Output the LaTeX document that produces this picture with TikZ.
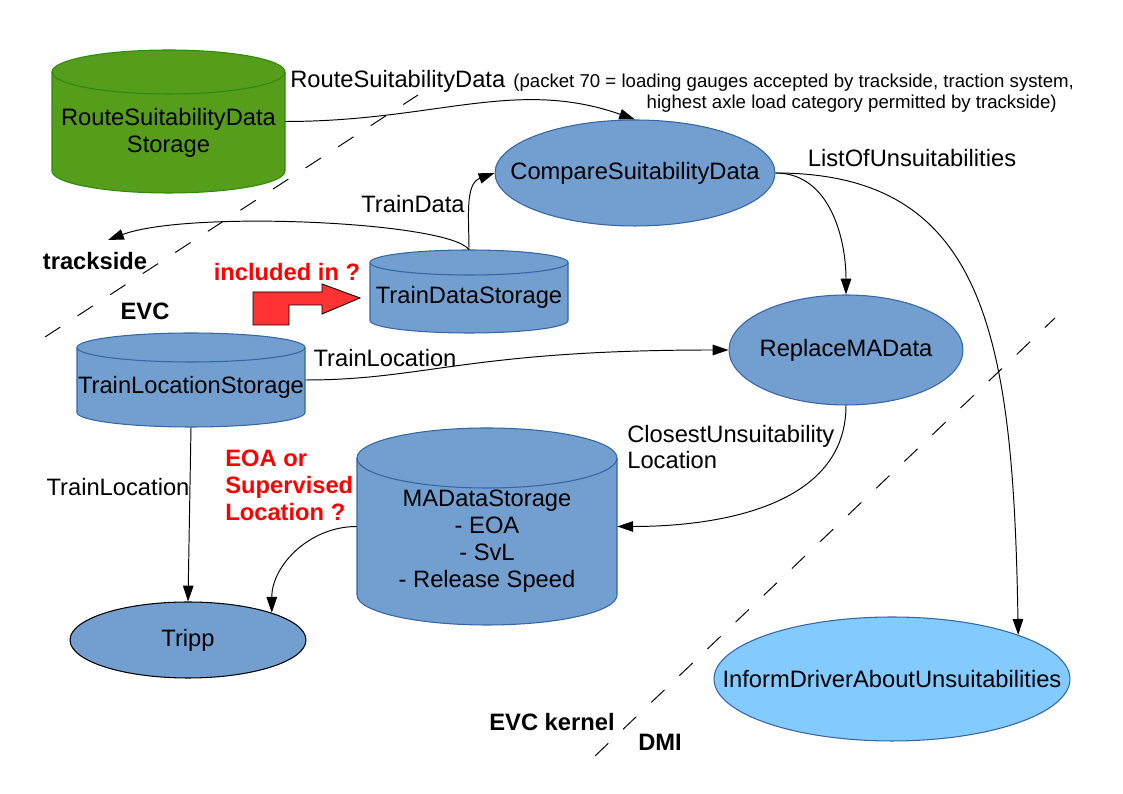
\documentclass[tikz,border=0pt]{standalone}
\usepackage{fontspec}
\setmainfont{Liberation Sans}
\usetikzlibrary{shapes.geometric,arrows.meta}
\definecolor{box-blue}{HTML}{729FCF}
\definecolor{box-edge}{HTML}{3465A4}
\definecolor{box-green}{HTML}{579D1C}
\definecolor{green-edge}{HTML}{2A8C0A}
\definecolor{dmi-blue}{HTML}{83CAFF}
\definecolor{note-red}{HTML}{FF3333}
\newcommand{\basesize}{\fontsize{13.5}{15.3}\selectfont}
\newcommand{\packetsize}{\fontsize{10.6}{12.7}\selectfont}
\newcommand{\pxunit}{0.02cm}
\newcommand{\ovaltext}[1]{\makebox[0pt]{#1}}
% name, x, y, half width, half height, cap radius, look, text
\newcommand{\storedrum}[8]{%
  \path[#7] (#2-#4,#3+#5-#6) -- (#2-#4,#3-#5+#6) arc[start angle=180, end angle=360, x radius=#4, y radius=#6] -- (#2+#4,#3+#5-#6) arc[start angle=0, end angle=180, x radius=#4, y radius=#6] -- cycle;
  \draw[#7, fill=none] (#2-#4,#3+#5-#6) arc[start angle=180, end angle=360, x radius=#4, y radius=#6];
  \node[inner sep=0pt, minimum width=2*#4*\pxunit, minimum height=2*#5*\pxunit, label={[align=center, yshift=-0.5*#6*\pxunit]center:#8}] (#1) at (#2,#3) {};
}
\tikzset{
    drum-blue/.style = {fill=box-blue, draw=box-edge, line width=0.6pt},
    drum-green/.style = {fill=box-green, draw=green-edge, line width=0.6pt},
    process-oval/.style = {ellipse, draw=box-edge, fill=box-blue, inner sep=0pt, line width=0.6pt},
    flow-arrow/.style = {line width=0.55pt, -{Triangle[length=9pt,width=6pt]}},
    flow-label/.style = {inner sep=0pt},
    zone-label/.style = {inner sep=0pt, font=\basesize\bfseries},
    red-note/.style = {inner sep=0pt, text=red, font=\basesize\bfseries, align=left},
    zone-border/.style = {line width=0.55pt, dash pattern=on 10.4pt off 11.7pt},
}
\begin{document}
\begin{tikzpicture}[x=0.02cm, y=0.02cm, font=\basesize]
\useasboundingbox (0,0) rectangle (1123,794);
\draw[zone-border] (45,457) -- (418,699);
\draw[zone-border] (595,38) -- (1055,476);

\storedrum{rsds}{168.5}{672.5}{116.5}{71.5}{22}{drum-green}{RouteSuitabilityData\\Storage}
\storedrum{tds}{469}{502.5}{99}{41.5}{12.5}{drum-blue}{TrainDataStorage}
\storedrum{tls}{191}{414}{114}{47}{14.5}{drum-blue}{TrainLocationStorage}
\storedrum{mads}{487}{267.5}{130}{98.5}{30}{drum-blue}{MADataStorage\\- EOA\\- SvL\\- Release Speed}
\node[process-oval, minimum width=5.6cm, minimum height=2.12cm] (csd) at (635,621) {\ovaltext{CompareSuitabilityData}};
\node[process-oval, minimum width=4.68cm, minimum height=2.2cm] (rma) at (846,444) {\ovaltext{ReplaceMAData}};
\node[process-oval, draw=black, minimum width=4.72cm, minimum height=1.52cm] (tripp) at (188,154) {Tripp};
\node[process-oval, fill=dmi-blue, minimum width=7.12cm, minimum height=2.48cm] (idau) at (892,115) {\ovaltext{InformDriverAboutUnsuitabilities}};
\coordinate (trackside-end) at (108,554);

\node[flow-label, anchor=base west] (rsd-label) at (290,706) {RouteSuitabilityData};
\node[flow-label, anchor=base west, font=\packetsize] (packet-line1) at (513,706) {(packet 70 = loading gauges accepted by trackside, traction system,};
\node[flow-label, anchor=base east, font=\packetsize] (packet-line2) at (1057,685) {highest axle load category permitted by trackside)};
\node[flow-label] (td-label) at (413,590) {TrainData};
\node[flow-label] (lou-label) at (912,636) {ListOfUnsuitabilities};
\node[flow-label] (tl-label-top) at (385,436) {TrainLocation};
\node[flow-label, anchor=west, align=left] (cul-label) at (627,347) {ClosestUnsuitability\\Location};
\node[flow-label] (tl-label-left) at (118,307) {TrainLocation};
\node[zone-label] (trackside) at (95,533) {trackside};
\node[zone-label] (evc) at (145,483) {EVC};
\node[zone-label] (evc-kernel) at (552,72) {EVC kernel};
\node[zone-label] (dmi) at (660,52) {DMI};
\node[red-note] (included) at (287,522) {included in ?};
\node[red-note, anchor=west] (eoa-note) at (225,309) {EOA or\\Supervised\\Location ?};
\draw[fill=note-red, line width=0.5pt] (253,469) -- (253,502) -- (322,502) -- (322,510) -- (360,496) -- (322,480) -- (322,489) -- (289,489) -- (289,469) -- cycle;

\draw[flow-arrow] (rsds.east) .. controls +(150,0) and +(-120,42) .. (csd.north);
\draw[flow-arrow] (tds.north) to[out=90, in=200] (csd.west);
\draw[flow-arrow] (tds.north) .. controls +(-20,28) and +(80,30) .. (trackside-end);
\draw[flow-arrow] (tls.east) .. controls +(120,0) and +(-260,0) .. (rma.west);
\draw[flow-arrow] (csd.east) to[out=0, in=90] (rma.north);
\draw[flow-arrow] (csd.east) .. controls +(210,0) and +(-5,300) .. (idau.north east);
\draw[flow-arrow] (rma.south) to[out=-90, in=0] (mads.east);
\draw[flow-arrow] (mads.west) to[out=180, in=90] (tripp.north east);
\draw[flow-arrow] (tls.south) -- (tripp.north);
\end{tikzpicture}
\end{document}
